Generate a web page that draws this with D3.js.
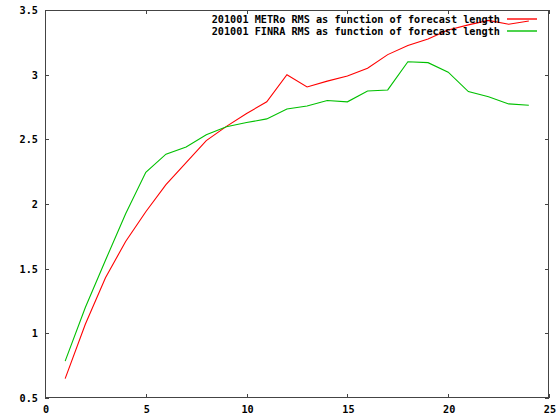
<!DOCTYPE html>
<html><head><meta charset="utf-8">
<script src="https://cdn.jsdelivr.net/npm/d3@7"></script>
<style>
body{margin:0;background:#fff;}
text{font-family:"DejaVu Sans Mono",monospace;font-weight:bold;font-size:10.2px;fill:#000;}
</style></head>
<body>
<script>
const steps = [1,2,3,4,5,6,7,8,9,10,11,12,13,14,15,16,17,18,19,20,21,22,23,24];
const metro = [0.65,1.07,1.43,1.71,1.94,2.15,2.32,2.49,2.60,2.70,2.79,3.00,2.905,2.95,2.99,3.05,3.155,3.225,3.275,3.345,3.385,3.42,3.39,3.415];
const finra = [0.785,1.2,1.565,1.925,2.245,2.385,2.44,2.535,2.598,2.63,2.658,2.735,2.758,2.80,2.79,2.874,2.882,3.10,3.093,3.019,2.869,2.83,2.774,2.764];
const seriesNames = ["201001 METRo RMS as function of forecast length","201001 FINRA RMS as function of forecast length"];
const seriesColors = ["#ff0000","#00c000"];
const xTicks = [0,5,10,15,20,25];
const yTicks = [0.5,1,1.5,2,2.5,3,3.5];

const W=557,H=417;
const L=45,R=549,T=10,B=398;
const svg=d3.select("body").append("svg").attr("width",W).attr("height",H);
const x=d3.scaleLinear().domain([0,25]).range([L,R]);
const y=d3.scaleLinear().domain([0.5,3.5]).range([B,T]);

const tl=4;
const tg=svg.append("g").attr("stroke","#444").attr("stroke-width",1).attr("shape-rendering","crispEdges");
xTicks.forEach(v=>{
  const px=Math.round(x(v))+0.5;
  tg.append("line").attr("x1",px).attr("x2",px).attr("y1",B).attr("y2",B-tl);
  tg.append("line").attr("x1",px).attr("x2",px).attr("y1",T).attr("y2",T+tl);
});
yTicks.forEach(v=>{
  const py=Math.round(y(v))+0.5;
  tg.append("line").attr("x1",L).attr("x2",L+tl).attr("y1",py).attr("y2",py);
  tg.append("line").attr("x1",R).attr("x2",R-tl).attr("y1",py).attr("y2",py);
});
xTicks.forEach(v=>{
  svg.append("text").attr("x",x(v)+1).attr("y",413).attr("text-anchor","middle").text(v);
});
yTicks.forEach(v=>{
  svg.append("text").attr("x",38).attr("y",y(v)+4).attr("text-anchor","end").text(d3.format("")(v));
});
svg.append("rect").attr("x",L+0.5).attr("y",T+0.5).attr("width",R-L-1).attr("height",B-T-1)
  .attr("fill","none").attr("stroke","#444").attr("stroke-width",1.2).attr("shape-rendering","crispEdges");

const line=d3.line().x((d,i)=>x(steps[i])).y(d=>y(d));
[metro,finra].forEach((s,k)=>{
  svg.append("path").datum(s).attr("d",line).attr("fill","none").attr("stroke",seriesColors[k]).attr("stroke-width",1.1);
});
seriesNames.forEach((n,k)=>{
  const ly=19+k*12;
  svg.append("text").attr("x",500).attr("y",ly+4).attr("text-anchor","end").text(n);
  svg.append("path").attr("d",`M507,${ly}H537`)
    .attr("fill","none").attr("stroke",seriesColors[k]).attr("stroke-width",1.4);
});
</script>
</body></html>
